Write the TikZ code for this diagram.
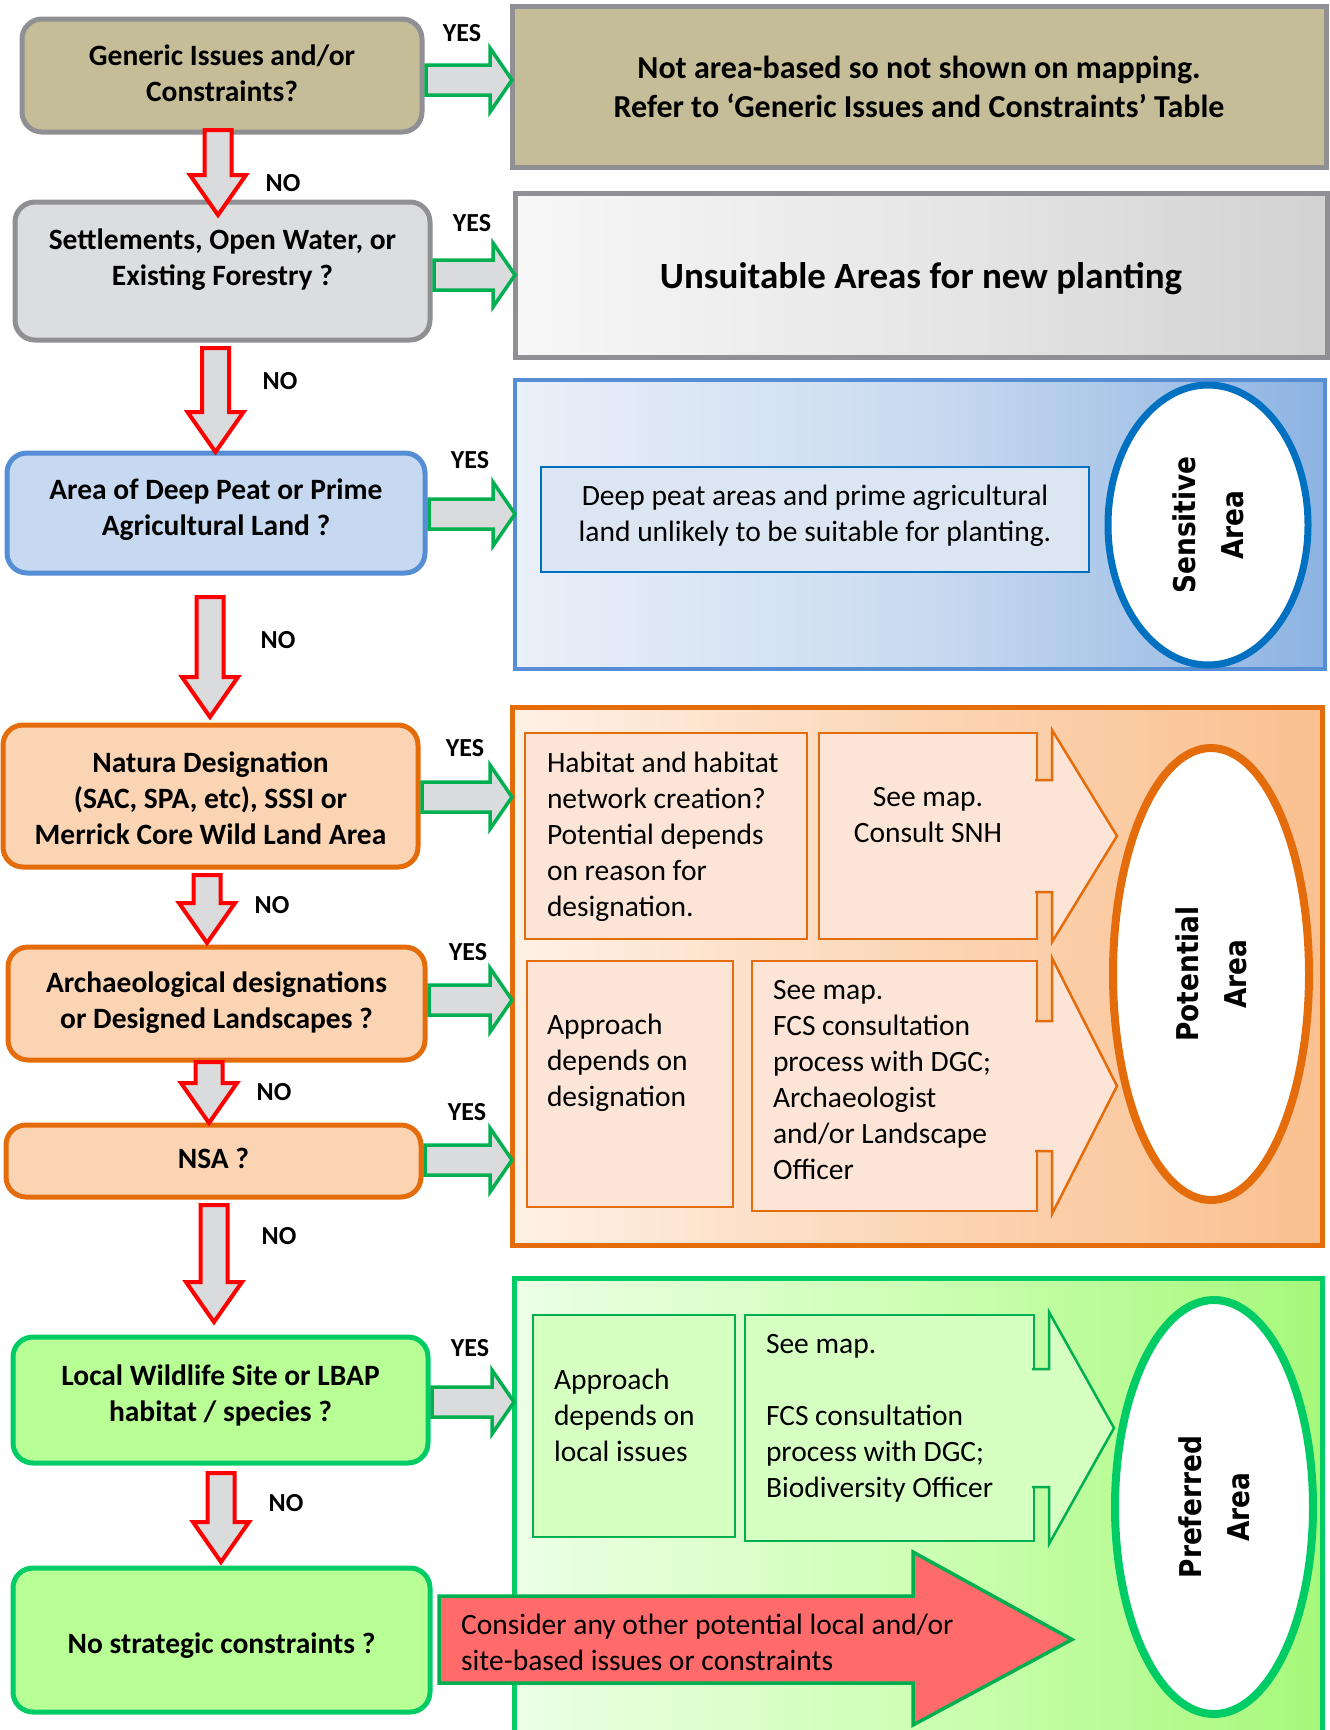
\documentclass[tikz,border=0pt]{standalone}
\usepackage{fontspec}
\setmainfont{Carlito}
\newfontfamily\areafont[FakeStretch=0.88]{DejaVu Sans}
\usetikzlibrary{calc,shapes.geometric}
\definecolor{genkhaki}{HTML}{C4BD97}
\definecolor{framegrey}{HTML}{8F8F94}
\definecolor{setgrey}{HTML}{DCDDDE}
\definecolor{unsL}{HTML}{F7F7F7}
\definecolor{unsM}{HTML}{E7E7E7}
\definecolor{unsR}{HTML}{D2D2D2}
\definecolor{peatfill}{HTML}{C6D9F1}
\definecolor{peatline}{HTML}{558ED5}
\definecolor{sensline}{HTML}{0070C0}
\definecolor{sensL}{HTML}{EAF0F9}
\definecolor{sensM}{HTML}{CADBF0}
\definecolor{sensR}{HTML}{8DB3E2}
\definecolor{sensbox}{HTML}{DCE6F2}
\definecolor{desfill}{HTML}{FBD4B4}
\definecolor{desline}{HTML}{E46C0A}
\definecolor{potL}{HTML}{FEF1E6}
\definecolor{potM}{HTML}{FCD6B6}
\definecolor{potR}{HTML}{FAC090}
\definecolor{potbox}{HTML}{FCE4D6}
\definecolor{locfill}{HTML}{B8FF96}
\definecolor{locline}{HTML}{00CC66}
\definecolor{prefL}{HTML}{EDFFE6}
\definecolor{prefM}{HTML}{CDFFB4}
\definecolor{prefR}{HTML}{A6F87A}
\definecolor{prefbox}{HTML}{D6FFC2}
\definecolor{yesgreen}{HTML}{00B050}
\definecolor{nored}{HTML}{FF0000}
\definecolor{arrowgrey}{HTML}{DADBDD}
\definecolor{considerred}{HTML}{FF6B6B}
\newcommand{\qfont}{\fontsize{29.5}{36}\selectfont\bfseries}
\newcommand{\bodyfont}{\fontsize{29.5}{36}\selectfont}
\newcommand{\notefont}{\fontsize{32}{39}\selectfont\bfseries}
\newcommand{\unsuitfont}{\fontsize{37}{45}\selectfont\bfseries}
\newcommand{\ynfont}{\fontsize{26}{31}\selectfont\bfseries}
\newcommand{\ellfont}{\areafont\fontsize{30}{48}\selectfont\bfseries}
% red NO arrow: from, to, x shift, gap below from, gap above to
\newcommand{\noarrow}[5]{%
  \draw[noarr] let \p1=($(#1.south)+(#3,#4)$), \p2=($(#2.north)+(0,-#5)$) in
    (\x1-13.5pt,\y1) -- (\x1-13.5pt,\y2+40pt) -- (\x1-28pt,\y2+40pt)
    -- (\x1,\y2) -- (\x1+28pt,\y2+40pt) -- (\x1+13.5pt,\y2+40pt)
    -- (\x1+13.5pt,\y1) -- cycle;}
% green YES arrow: from, to, y shift
\newcommand{\yesarrow}[3]{%
  \draw[yesarr] let \p1=($(#1.east)+(4,#3)$), \p2=(#2.west) in
    (\x1,\y1+15pt) -- (\x2-22pt,\y1+15pt) -- (\x2-22pt,\y1+32pt) -- (\x2,\y1)
    -- (\x2-22pt,\y1-32pt) -- (\x2-22pt,\y1-15pt) -- (\x1,\y1-15pt) -- cycle;}
% head of a callout box: node, neck inset, style
\newcommand{\calhead}[3]{%
  \draw[#3] ($(#1.north east)+(-2,#2)$) -- ($(#1.north east)+(15,#2)$)
    -- ($(#1.north east)+(15,-3)$) -- ($(#1.east)+(80,0)$)
    -- ($(#1.south east)+(15,3)$) -- ($(#1.south east)+(15,-#2)$)
    -- ($(#1.south east)+(-2,-#2)$);}
\begin{document}
\begin{tikzpicture}[x=1pt, y=-1pt,
  qbox/.style={draw, rounded corners=20pt, line width=5pt, align=flush center, text width=370pt, inner ysep=0pt, outer sep=0pt, font=\qfont},
  region/.style={draw, line width=5pt, outer sep=0pt, align=flush center},
  ibox/.style={draw, line width=2.5pt, outer sep=0pt, inner ysep=0pt, font=\bodyfont},
  potnote/.style={ibox, draw=desline, fill=potbox, anchor=north west},
  prefnote/.style={ibox, draw=yesgreen, fill=prefbox, anchor=north west},
  pothead/.style={draw=desline, fill=potbox, line width=2.5pt},
  prefhead/.style={draw=yesgreen, fill=prefbox, line width=2.5pt},
  areaell/.style={ellipse, fill=white, rotate=90, align=center, inner sep=0pt, outer sep=0pt, font=\ellfont},
  yn/.style={font=\ynfont, inner sep=0pt},
  noarr/.style={draw=nored, fill=arrowgrey, line width=4pt},
  yesarr/.style={draw=yesgreen, fill=arrowgrey, line width=3.5pt},
  considerarr/.style={draw=yesgreen, fill=considerred, line width=3.5pt}
]
\useasboundingbox (0,0) rectangle (1330,1730);
\clip (0,0) rectangle (1330,1730);

% question boxes
\node[qbox, draw=framegrey, fill=genkhaki, minimum width=400pt, text height=46pt, text depth=67pt] (gen) at (222,75.5) {Generic Issues and/or\\Constraints?};
\node[qbox, draw=framegrey, fill=setgrey, minimum width=415pt, text height=47.2pt, text depth=90.8pt] (set) at (222.5,271) {Settlements, Open Water, or\\Existing Forestry ?};
\node[qbox, draw=peatline, fill=peatfill, minimum width=418pt, text height=46.8pt, text depth=73.2pt] (peat) at (216,513) {Area of Deep Peat or Prime\\Agricultural Land ?};
\node[qbox, draw=desline, fill=desfill, minimum width=415pt, text height=47.8pt, text depth=94.2pt] (nat) at (210.5,796) {Natura Designation\\(SAC, SPA, etc), SSSI or\\Merrick Core Wild Land Area};
\node[qbox, draw=desline, fill=desfill, minimum width=417pt, text height=45.6pt, text depth=67.4pt] (arch) at (216.5,1003.5) {Archaeological designations\\or Designed Landscapes ?};
\node[qbox, draw=desline, fill=desfill, minimum width=415pt, text height=43.7pt, text depth=28.3pt] (nsa) at (213.5,1161) {NSA ?};
\node[qbox, draw=locline, fill=locfill, minimum width=415pt, text height=48pt, text depth=78pt] (loc) at (220.5,1400) {Local Wildlife Site or LBAP\\habitat / species ?};
\node[qbox, draw=locline, fill=locfill, minimum width=417pt, text height=85.2pt, text depth=58.8pt] (nos) at (221.5,1640) {No strategic constraints ?};

% outcome areas
\node[region, draw=framegrey, fill=genkhaki, minimum width=814pt, minimum height=161pt, font=\notefont] (mapnote) at (919,86.5) {Not area-based so not shown on mapping.\\Refer to ‘Generic Issues and Constraints’ Table};
\node[region, draw=framegrey, left color=unsL, right color=unsR, middle color=unsM, minimum width=812pt, text width=760pt, inner ysep=0pt, text height=95.4pt, text depth=68.6pt, font=\unsuitfont] (unsuit) at (921,275) {Unsuitable Areas for new planting};
\node[region, draw=peatline, line width=4pt, left color=sensL, right color=sensR, middle color=sensM, minimum width=810pt, minimum height=289pt] (sens) at (920,524.5) {};
\node[region, draw=desline, left color=potL, right color=potR, middle color=potM, minimum width=810pt, minimum height=538pt] (pot) at (917,976) {};
\node[region, draw=locline, left color=prefL, right color=prefR, middle color=prefM, minimum width=808pt, minimum height=482pt] (pref) at (918,1519) {};

% sensitive area
\node[ibox, draw=sensline, fill=sensbox, align=flush center, minimum width=548pt, text width=520pt, text height=38.3pt, text depth=66.7pt] (peatnote) at (815,519.5) {Deep peat areas and prime agricultural\\land unlikely to be suitable for planting.};
\node[areaell, draw=sensline, line width=7pt, minimum width=280pt, minimum height=200pt] (sensell) at (1208,525) {Sensitive\\Area};

% potential area
\node[potnote, align=flush left, text width=238pt, inner xsep=22pt, text height=39pt, text depth=167pt] (habnote) at (525,733) {Habitat and habitat\\network creation?\\Potential depends\\on reason for\\designation.};
\node[potnote, align=flush center, text width=198pt, inner xsep=10pt, text height=73pt, text depth=133pt] (snhnote) at (819,733) {See map.\\Consult SNH};
\calhead{snhnote}{47}{pothead}
\node[potnote, align=flush left, text width=166pt, inner xsep=20pt, text height=73pt, text depth=173pt] (desnote) at (527,961) {Approach\\depends on\\designation};
\node[potnote, align=flush left, text width=243pt, inner xsep=21pt, text height=38pt, text depth=212pt] (dgcnote) at (752,961) {See map.\\FCS consultation\\process with DGC;\\Archaeologist\\and/or Landscape\\Officer};
\calhead{dgcnote}{60}{pothead}
\node[areaell, draw=desline, line width=8pt, minimum width=452pt, minimum height=196pt] (potell) at (1211,974) {Potential\\Area};

% preferred area
\node[prefnote, align=flush left, text width=160pt, inner xsep=21pt, text height=74pt, text depth=148pt] (localnote) at (533,1315) {Approach\\depends on\\local issues};
\node[prefnote, align=flush left, text width=247pt, inner xsep=21pt, text height=38pt, text depth=188pt] (bionote) at (745,1315) {See map.\\[36pt]FCS consultation\\process with DGC;\\Biodiversity Officer};
\calhead{bionote}{54}{prefhead}
\node[areaell, draw=locline, line width=8pt, minimum width=414pt, minimum height=198pt] (prefell) at (1214,1507) {Preferred\\Area};
\draw[considerarr] (439,1596) -- (913,1596) -- (913,1552) -- (1072,1639.5) -- (913,1725) -- (913,1683) -- (439,1683) -- cycle;
\node[font=\bodyfont, align=flush left, text width=560pt, inner sep=0pt, anchor=base west] (consider) at (461,1634) {Consider any other potential local and/or\\site-based issues or constraints};

% NO arrows
\noarrow{gen}{set}{-4}{-2}{-13}
\noarrow{set}{peat}{-7}{8}{1}
\noarrow{peat}{nat}{-6}{24}{8}
\noarrow{nat}{arch}{-3.5}{8}{4}
\noarrow{arch}{nsa}{-7.5}{2}{2}
\noarrow{nsa}{loc}{0.5}{8}{15}
\noarrow{loc}{nos}{0.5}{10}{6}

% YES arrows
\yesarrow{gen}{mapnote}{4.5}
\yesarrow{set}{unsuit}{4}
\yesarrow{peat}{sens}{1}
\yesarrow{nat}{pot}{1}
\yesarrow{arch}{pot}{-3.5}
\yesarrow{nsa}{pot}{-1}
\yesarrow{loc}{pref}{2}

% labels
\node[yn] (no1) at (283,183) {NO};
\node[yn] (no2) at (280,381) {NO};
\node[yn] (no3) at (278,640) {NO};
\node[yn] (no4) at (272,905) {NO};
\node[yn] (no5) at (274,1092) {NO};
\node[yn] (no6) at (279,1236) {NO};
\node[yn] (no7) at (286,1503) {NO};
\node[yn] (yes1) at (462,33) {YES};
\node[yn] (yes2) at (472,223) {YES};
\node[yn] (yes3) at (470,460) {YES};
\node[yn] (yes4) at (465,748) {YES};
\node[yn] (yes5) at (468,952) {YES};
\node[yn] (yes6) at (467,1112) {YES};
\node[yn] (yes7) at (470,1348) {YES};
\end{tikzpicture}
\end{document}
